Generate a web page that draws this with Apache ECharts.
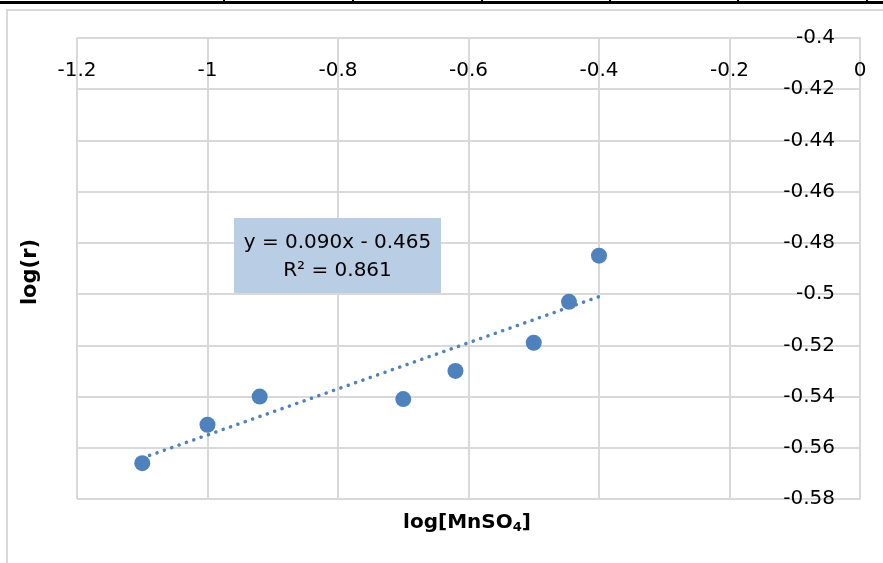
<!DOCTYPE html>
<html>
<head>
<meta charset="utf-8">
<script src="https://cdn.jsdelivr.net/npm/echarts@6/dist/echarts.min.js"></script>
<style>
  html, body { margin: 0; padding: 0; background: #fff; }
  #chart { width: 883px; height: 563px; }
</style>
</head>
<body>
<div id="chart"></div>
<script>
// log of MnSO4 concentration vs log of rate
const logMnSO4 = [-1.1, -1.0, -0.92, -0.70, -0.62, -0.50, -0.446, -0.40];
const logRate = [-0.566, -0.551, -0.540, -0.541, -0.530, -0.519, -0.503, -0.485];

// linear trendline as reported
const trendSlope = 0.090;
const trendIntercept = -0.465;
const trendR2 = 0.861;

const xTicks = { min: -1.2, max: 0, step: 0.2 };
const yTicks = { min: -0.58, max: -0.4, step: 0.02 };

const FONT = 'DejaVu Sans';
const TEXT = '#000';
const GRID = '#d9d9d9';
const BLUE = '#4f81bd';

const points = logMnSO4.map((x, i) => [x, logRate[i]]);
const xFrom = Math.min(...logMnSO4);
const xTo = Math.max(...logMnSO4);
const trend = [xFrom, xTo].map(x => [x, trendSlope * x + trendIntercept]);

const fmt = v => String(parseFloat(v.toFixed(2)));

const chart = echarts.init(document.getElementById('chart'), null, { renderer: 'canvas' });
chart.setOption({
  animation: false,
  backgroundColor: '#fff',
  grid: { left: 77, right: 23, top: 38, bottom: 64, containLabel: false },
  xAxis: {
    type: 'value',
    position: 'top',
    min: xTicks.min, max: xTicks.max, interval: xTicks.step,
    axisLine: { show: true, lineStyle: { color: GRID, width: 2 } },
    axisTick: { show: false },
    splitLine: { show: true, lineStyle: { color: GRID, width: 2 } },
    axisLabel: {
      inside: true, margin: 23, color: TEXT,
      fontFamily: FONT, fontSize: 20, formatter: fmt
    }
  },
  yAxis: {
    type: 'value',
    position: 'right',
    min: yTicks.min, max: yTicks.max, interval: yTicks.step,
    axisLine: { show: true, lineStyle: { color: GRID, width: 2 } },
    axisTick: { show: false },
    splitLine: { show: true, lineStyle: { color: GRID, width: 2 } },
    axisLabel: {
      inside: true, margin: 25, color: TEXT,
      fontFamily: FONT, fontSize: 20, formatter: fmt
    }
  },
  series: [
    {
      type: 'line',
      data: trend,
      showSymbol: false,
      symbol: 'none',
      z: 2,
      lineStyle: { color: BLUE, width: 3.5, type: [0.1, 7.7], cap: 'round' }
    },
    {
      type: 'scatter',
      data: points,
      symbol: 'circle',
      symbolSize: 16,
      z: 3,
      itemStyle: { color: BLUE, opacity: 1 }
    }
  ],
  graphic: [
    // outer frame and table rule above the chart
    { type: 'rect', shape: { x: 7, y: 10, width: 900, height: 600 }, style: { fill: 'none', stroke: GRID, lineWidth: 2 }, silent: true },
    { type: 'rect', shape: { x: 0, y: 1, width: 883, height: 3 }, style: { fill: '#000' }, silent: true },
    ...[223, 352, 481, 609, 737, 866].map(x => ({
      type: 'rect', shape: { x: x, y: 0, width: 2, height: 2 }, style: { fill: '#000' }, silent: true
    })),
    // trendline equation box
    { type: 'rect', shape: { x: 234, y: 218, width: 207, height: 75 }, style: { fill: '#b9cde5' }, z: 10, silent: true },
    {
      type: 'text', x: 337.5, y: 243, z: 11, silent: true,
      style: {
        text: 'y = ' + trendSlope.toFixed(3) + 'x - ' + Math.abs(trendIntercept).toFixed(3),
        fill: TEXT, font: '20px "' + FONT + '"', align: 'center', verticalAlign: 'middle'
      }
    },
    {
      type: 'text', x: 337.5, y: 271, z: 11, silent: true,
      style: {
        text: 'R² = ' + trendR2.toFixed(3),
        fill: TEXT, font: '20px "' + FONT + '"', align: 'center', verticalAlign: 'middle'
      }
    },
    // axis titles
    {
      type: 'text', x: 31, y: 272, rotation: Math.PI / 2, silent: true,
      style: {
        text: 'log(r)', fill: '#000', font: 'bold 21px "' + FONT + '"',
        align: 'center', verticalAlign: 'middle'
      }
    },
    {
      type: 'text', x: 467, y: 523, silent: true,
      style: {
        text: '{a|log[MnSO}{s|4}{a|]}',
        align: 'center', verticalAlign: 'middle',
        rich: {
          a: { fill: '#000', fontFamily: FONT, fontWeight: 'bold', fontSize: 20 },
          s: { fill: '#000', fontFamily: FONT, fontWeight: 'bold', fontSize: 13, padding: [10, 0, 0, 0] }
        }
      }
    }
  ]
});
</script>
</body>
</html>
